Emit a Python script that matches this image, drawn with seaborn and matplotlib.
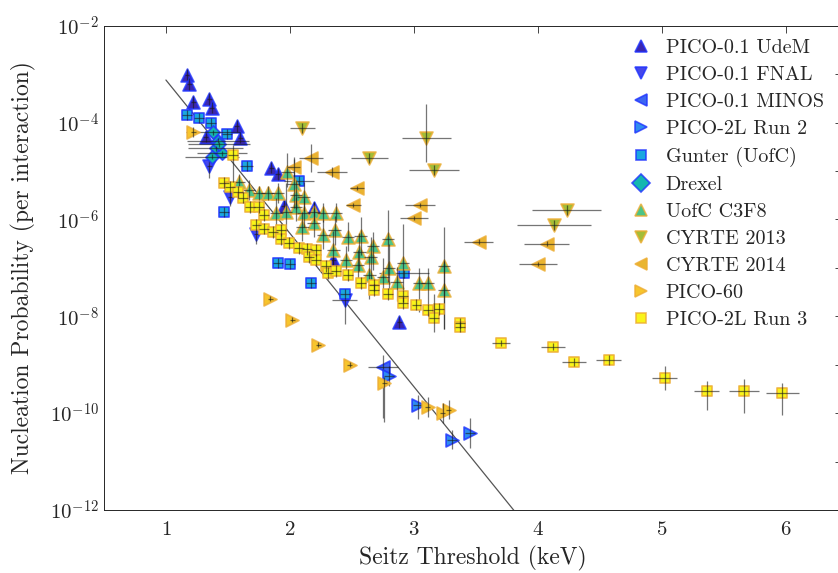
import numpy as np
import pandas as pd
import matplotlib
matplotlib.use("Agg")
import matplotlib.pyplot as plt
import matplotlib.ticker as mticker
import seaborn as sns

# ---- data (x in keV, y as log10 of nucleation probability, errors in keV / decades) ----
udem_x = [1.17, 1.19, 1.22, 1.35, 1.37, 1.57, 1.60, 1.32, 1.85, 1.90, 1.95, 2.19, 2.35, 2.88]
udem_logy = [-3.01, -3.20, -3.57, -3.51, -3.69, -4.07, -4.31, -4.29, -4.93, -5.06, -5.72, -5.76, -6.83, -8.12]
udem_xerr = [0.02] * 14
udem_ylo = [0.12] * 14
udem_yhi = [0.12] * 14

fnal_x = [1.35, 1.52, 1.73, 2.44]
fnal_logy = [-4.89, -5.53, -6.30, -7.66]
fnal_xerr = [0.02, 0.02, 0.02, 0.10]
fnal_ylo = [0.25, 0.2, 0.2, 0.5]
fnal_yhi = [0.25, 0.2, 0.2, 0.2]

minos_x = [2.75]
minos_logy = [-9.05]
minos_xerr = [0.12]
minos_ylo = [1.05]
minos_yhi = [0.25]

run2_x = [2.80, 3.03, 3.31, 3.45]
run2_logy = [-9.23, -9.83, -10.55, -10.41]
run2_xerr = [0.04, 0.04, 0.04, 0.04]
run2_ylo = [0.2, 0.3, 0.2, 0.3]
run2_yhi = [0.2, 0.2, 0.2, 0.3]

gunter_x = [1.17, 1.27, 1.36, 1.49, 1.65, 1.47, 1.90, 2.00, 2.07, 2.17, 2.44, 2.92]
gunter_logy = [-3.84, -3.90, -4.00, -4.23, -4.89, -5.84, -6.90, -6.92, -5.20, -7.31, -7.54, -7.10]
gunter_xerr = [0.04, 0.04, 0.04, 0.04, 0.05, 0.04, 0.04, 0.04, 0.12, 0.04, 0.04, 0.2]
gunter_ylo = [0.1] * 12
gunter_yhi = [0.1] * 12

drexel_x = [1.38, 1.42, 1.40, 1.45, 1.37, 1.43]
drexel_logy = [-4.20, -4.37, -4.53, -4.63, -4.70, -4.45]
drexel_xerr = [0.22, 0.25, 0.22, 0.2, 0.22, 0.25]
drexel_ylo = [0.05] * 6
drexel_yhi = [0.05] * 6

uofc_x = [1.59, 1.67, 1.75, 1.82, 1.90, 1.89, 1.97, 1.98, 2.03, 2.05, 2.11, 2.05, 2.11,
          2.19, 2.27, 2.37, 2.10, 2.19, 2.27, 2.36, 2.35, 2.47, 2.57, 2.67, 2.79, 2.45,
          2.56, 2.65, 2.55, 2.64, 2.75, 2.80, 2.91, 2.86, 3.04, 3.11, 3.24, 3.24]
uofc_logy = [-5.22, -5.39, -5.45, -5.45, -5.45, -5.86, -5.84, -5.02, -5.26, -5.49, -5.53,
             -5.74, -5.86, -5.84, -5.86, -5.86, -6.15, -6.07, -6.32, -6.22, -6.63, -6.36,
             -6.34, -6.55, -6.40, -6.84, -6.67, -6.77, -6.94, -7.15, -7.19, -7.00, -6.90,
             -7.29, -7.31, -7.31, -6.96, -7.46]
uofc_xerr = [0.05] * 38
uofc_ylo = [0.15, 0.2, 0.15, 0.15, 0.2, 0.3, 0.4, 0.3, 0.5, 0.3, 0.3, 0.3, 0.3, 0.2, 0.2, 0.2,
            0.3, 0.3, 0.3, 0.3, 0.5, 0.3, 0.4, 0.5, 0.9, 0.4, 0.4, 0.5, 0.4, 0.5, 0.4, 0.5,
            0.6, 0.4, 0.6, 0.6, 1.3, 0.8]
uofc_yhi = [0.15, 0.2, 0.15, 0.15, 0.2, 0.3, 0.6, 0.4, 0.5, 0.3, 0.3, 0.2, 0.3, 0.2, 0.2, 0.2,
            0.3, 0.3, 0.3, 0.3, 0.4, 0.3, 0.4, 0.3, 0.6, 0.3, 0.4, 0.4, 0.3, 0.4, 0.4, 0.5,
            0.8, 0.3, 0.3, 0.3, 0.8, 0.6]

cy13_x = [2.10, 2.64, 3.10, 3.16, 4.23, 4.13]
cy13_logy = [-4.11, -4.73, -4.31, -4.98, -5.80, -6.11]
cy13_xerr = [0.1, 0.15, 0.2, 0.2, 0.28, 0.3]
cy13_ylo = [0.1, 0.1, 0.5, 0.1, 0.1, 0.1]
cy13_yhi = [0.1, 0.1, 0.7, 0.1, 0.1, 0.1]

cy14_x = [2.17, 2.03, 2.34, 2.54, 2.51, 3.05, 3.00, 3.52, 4.07, 4.00]
cy14_logy = [-4.73, -4.91, -5.02, -5.35, -5.70, -5.70, -5.97, -6.46, -6.50, -6.92]
cy14_xerr = [0.1, 0.05, 0.12, 0.06, 0.06, 0.12, 0.11, 0.12, 0.18, 0.15]
cy14_ylo = [0.28, 0.2, 0.1, 0.05, 0.05, 0.05, 0.05, 0.05, 0.05, 0.05]
cy14_yhi = [0.28, 0.2, 0.1, 0.05, 0.05, 0.05, 0.05, 0.05, 0.05, 0.05]

p60_x = [1.22, 1.84, 2.02, 2.23, 2.48, 2.76, 3.11, 3.23, 3.28]
p60_logy = [-4.19, -7.64, -8.07, -8.59, -9.00, -9.38, -9.87, -10.00, -9.93]
p60_xerr = [0.02, 0.02, 0.02, 0.02, 0.02, 0.02, 0.02, 0.02, 0.02]
p60_ylo = [0.1, 0.05, 0.05, 0.05, 0.05, 0.8, 0.2, 0.2, 0.2]
p60_yhi = [0.1, 0.05, 0.05, 0.05, 0.05, 0.12, 0.2, 0.2, 0.2]

run3_x = [1.54, 1.47, 1.52, 1.58, 1.62, 1.68, 1.75, 1.79, 1.73, 1.79, 1.86, 1.93, 1.93, 1.99,
          2.07, 2.14, 2.21, 2.15, 2.21, 2.29, 2.31, 2.37, 2.47, 2.57, 2.68, 2.68, 2.79, 2.91,
          2.91, 3.02, 3.11, 3.20, 3.16, 3.37, 3.37,
          3.70, 4.12, 4.29, 4.57, 5.02, 5.36, 5.66, 5.97]
run3_logy = [-4.67, -5.24, -5.33, -5.43, -5.55, -5.74, -5.74, -5.91, -6.11, -6.19, -6.26, -6.22,
             -6.40, -6.48, -6.59, -6.61, -6.63, -6.77, -6.84, -6.96, -7.10, -7.06, -7.15, -7.31,
             -7.35, -7.46, -7.54, -7.58, -7.72, -7.76, -7.87, -7.85, -8.03, -8.14, -8.22,
             -8.55, -8.63, -8.94, -8.90, -9.27, -9.54, -9.54, -9.58]
run3_xerr = [0.04] * 35 + [0.07, 0.1, 0.1, 0.1, 0.1, 0.1, 0.12, 0.13]
run3_ylo = [0.55] + [0.12] * 31 + [0.3, 0.1, 0.1] + [0.07, 0.07, 0.08, 0.1, 0.25, 0.4, 0.45, 0.45]
run3_yhi = [0.2] + [0.12] * 31 + [0.5, 0.1, 0.1] + [0.07, 0.07, 0.08, 0.1, 0.25, 0.2, 0.25, 0.2]

fit_x = [1.0, 3.85]
fit_logy = [-3.12, -12.15]

series_names = ["PICO-0.1 UdeM", "PICO-0.1 FNAL", "PICO-0.1 MINOS", "PICO-2L Run 2",
                "Gunter (UofC)", "Drexel", "UofC C3F8", "CYRTE 2013", "CYRTE 2014",
                "PICO-60", "PICO-2L Run 3"]

# ---- styling ----
sns.set_style("white")
plt.rcParams["font.family"] = ["cmr10", "DejaVu Serif"]
plt.rcParams["mathtext.fontset"] = "cm"
plt.rcParams["axes.unicode_minus"] = False
plt.rcParams["axes.formatter.use_mathtext"] = True

blue_edge = (0.12, 0.2, 1.0, 0.8)
orange_edge = (0.93, 0.68, 0.2, 0.8)
styles = [
    ("^", "#3b27b0", blue_edge, 85),
    ("v", "#4547ea", blue_edge, 85),
    ("<", "#3c66f2", blue_edge, 85),
    (">", "#2f8cf0", blue_edge, 85),
    ("s", "#1aa7df", blue_edge, 55),
    ("D", "#14b7b0", blue_edge, 45),
    ("^", "#4cc487", orange_edge, 85),
    ("v", "#a3bd37", orange_edge, 85),
    ("<", "#e9b52f", orange_edge, 85),
    (">", "#f7c52c", orange_edge, 85),
    ("s", "#f9f41a", orange_edge, 55),
]
series = [
    (udem_x, udem_logy, udem_xerr, udem_ylo, udem_yhi),
    (fnal_x, fnal_logy, fnal_xerr, fnal_ylo, fnal_yhi),
    (minos_x, minos_logy, minos_xerr, minos_ylo, minos_yhi),
    (run2_x, run2_logy, run2_xerr, run2_ylo, run2_yhi),
    (gunter_x, gunter_logy, gunter_xerr, gunter_ylo, gunter_yhi),
    (drexel_x, drexel_logy, drexel_xerr, drexel_ylo, drexel_yhi),
    (uofc_x, uofc_logy, uofc_xerr, uofc_ylo, uofc_yhi),
    (cy13_x, cy13_logy, cy13_xerr, cy13_ylo, cy13_yhi),
    (cy14_x, cy14_logy, cy14_xerr, cy14_ylo, cy14_yhi),
    (p60_x, p60_logy, p60_xerr, p60_ylo, p60_yhi),
    (run3_x, run3_logy, run3_xerr, run3_ylo, run3_yhi),
]

fig = plt.figure(figsize=(8.38, 5.73), dpi=100)
# right edge of the box sits just past the image border, as in the original
ax = fig.add_axes([0.124, 0.110, 0.8807, 0.845])

# fit line
fit = pd.DataFrame({"x": fit_x, "y": 10 ** np.array(fit_logy)})
ax.plot(fit["x"], fit["y"], color="#555555", lw=0.9, zorder=1)

handles = []
for i, (name, (x, ly, xe, ylo, yhi), (mk, face, edge, s)) in enumerate(zip(series_names, series, styles)):
    ly = np.array(ly)
    df = pd.DataFrame({"x": x, "y": 10 ** ly})
    lo = df["y"] - 10 ** (ly - np.array(ylo))
    hi = 10 ** (ly + np.array(yhi)) - df["y"]
    sns.scatterplot(data=df, x="x", y="y", marker=mk, color=face, edgecolor=edge,
                    s=s, linewidth=1.3, ax=ax, zorder=2 + 2 * i)
    ax.errorbar(df["x"], df["y"], xerr=xe, yerr=[lo, hi], fmt="none",
                ecolor=(0.1, 0.1, 0.1, 0.6), elinewidth=0.9, capsize=0, zorder=3 + 2 * i)
    handles.append(plt.Line2D([], [], ls="none", marker=mk, markerfacecolor=face,
                              markeredgecolor=edge, markeredgewidth=1.2,
                              markersize=9 if mk != "s" else 7.5))

ax.set_yscale("log")
ax.set_ylim(1e-12, 1e-2)
ax.set_xlim(0.5, 6.45)
ax.set_xticks([1, 2, 3, 4, 5, 6])
ax.yaxis.set_major_locator(mticker.LogLocator(base=10, numticks=20))
ax.yaxis.set_major_formatter(mticker.FuncFormatter(
    lambda v, p: f"$10^{{{int(round(np.log10(v)))}}}$" if int(round(np.log10(v))) % 2 == 0 else ""))
ax.yaxis.set_minor_locator(mticker.LogLocator(base=10, subs=np.arange(2, 10), numticks=20))
ax.yaxis.set_minor_formatter(mticker.NullFormatter())

ax.tick_params(which="both", direction="in", top=True, right=True, colors="#262626", width=0.6)
ax.tick_params(which="major", length=5, labelsize=15)
ax.tick_params(axis="x", which="major", pad=8)
ax.tick_params(which="minor", length=2.5)
for sp in ax.spines.values():
    sp.set_color("#262626")
    sp.set_linewidth(0.7)

ax.set_xlabel("Seitz Threshold (keV)", fontsize=17, labelpad=5)
ax.set_ylabel("Nucleation Probability (per interaction)", fontsize=17, labelpad=10)

ax.legend(handles, series_names, loc="upper left", bbox_to_anchor=(0.751, 0.932),
          bbox_transform=fig.transFigure, frameon=False, fontsize=14.5,
          handlelength=1.2, handletextpad=0.6, labelspacing=0.44, borderpad=0, borderaxespad=0)

fig.savefig("out.png", dpi=100)
